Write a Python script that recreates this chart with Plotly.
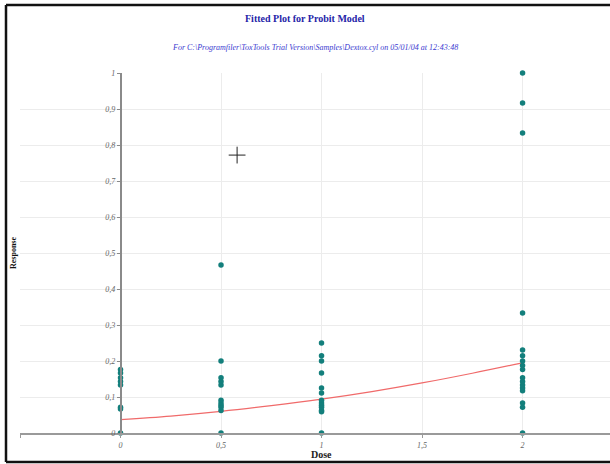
import plotly.graph_objects as go

# Observed responses per dose group
dose_0 = [0, 0, 0, 0, 0, 0, 0, 0]
resp_0 = [0.0, 0.0667, 0.0714, 0.1333, 0.1429, 0.1538, 0.1667, 0.1765]

dose_05 = [0.5] * 11
resp_05 = [0.0, 0.0625, 0.0714, 0.0769, 0.0833, 0.0909, 0.1333, 0.1429, 0.1538, 0.2, 0.4667]

dose_1 = [1] * 13
resp_1 = [0.0, 0.0588, 0.0625, 0.0714, 0.0769, 0.0833, 0.0909, 0.1111, 0.125, 0.1667, 0.2, 0.2143, 0.25]

dose_2 = [2] * 17
resp_2 = [0.0, 0.0714, 0.0833, 0.1176, 0.125, 0.1333, 0.1429, 0.1538, 0.1765, 0.1875,
          0.2, 0.2143, 0.2308, 0.3333, 0.8333, 0.9167, 1.0]

# Fitted probit curve
fit_dose = [0, 0.25, 0.5, 0.75, 1.0, 1.25, 1.5, 1.75, 2.0]
fit_resp = [0.037, 0.047, 0.060, 0.076, 0.094, 0.115, 0.139, 0.166, 0.195]

# Crosshair pointer
pointer_x = [0.58]
pointer_y = [0.772]

x_tickvals = [-0.5, 0, 0.5, 1, 1.5, 2]
x_ticktext = ["", "0", "0,5", "1", "1,5", "2"]
y_tickvals = [0, 0.1, 0.2, 0.3, 0.4, 0.5, 0.6, 0.7, 0.8, 0.9, 1.0]

title_text = "Fitted Plot for Probit Model"
subtitle_text = "For C:\\Programfiler\\ToxTools Trial Version\\Samples\\Dextox.cyl on 05/01/04 at 12:43:48"
x_title = "Dose"
y_title = "Response"

W, H = 610, 464
L, R, T, B = 20, 0, 73, 31
x_range = [-0.5, 2.435]
y_range = [0, 1]

serif = "Liberation Serif, Times New Roman, serif"
dot_color = "#137f7c"

fig = go.Figure()

fig.add_trace(go.Scatter(
    x=fit_dose, y=fit_resp, mode="lines", line=dict(color="#f06a6a", width=1.2, shape="spline"),
    hoverinfo="skip", showlegend=False))

for xs, ys in [(dose_0, resp_0), (dose_05, resp_05), (dose_1, resp_1), (dose_2, resp_2)]:
    fig.add_trace(go.Scatter(
        x=xs, y=ys, mode="markers", marker=dict(color=dot_color, size=5.5),
        cliponaxis=False, showlegend=False))

fig.add_trace(go.Scatter(
    x=pointer_x, y=pointer_y, mode="markers",
    marker=dict(symbol="cross-thin", size=12, line=dict(color="#222222", width=1)),
    showlegend=False, hoverinfo="skip"))

plot_w = W - L - R
yaxis_pos = (0 - x_range[0]) / (x_range[1] - x_range[0])

def px_x(p):
    return (p - L) / plot_w

def px_y(p):
    return (H - B - p) / (H - T - B)

tick_font = dict(family=serif, size=8, color="#666666", style="italic")

fig.update_layout(
    width=W, height=H,
    margin=dict(l=L, r=R, t=T, b=B, pad=0),
    paper_bgcolor="white", plot_bgcolor="white",
    separators=",.",
    showlegend=False,
    xaxis=dict(
        range=x_range, tickvals=x_tickvals, ticktext=x_ticktext,
        showgrid=True, gridcolor="#ececec", gridwidth=1, zeroline=False,
        showline=True, linecolor="#9a9a9a", linewidth=2,
        ticks="outside", ticklen=3, tickcolor="#9a9a9a",
        tickfont=tick_font),
    yaxis=dict(
        range=y_range, tickvals=y_tickvals,
        anchor="free", position=yaxis_pos,
        showgrid=True, gridcolor="#ececec", gridwidth=1, zeroline=False,
        showline=True, linecolor="#8a8a8a", linewidth=1.5,
        ticks="outside", ticklen=3, tickcolor="#8a8a8a",
        tickfont=tick_font),
    annotations=[
        dict(text="<b>" + title_text + "</b>", xref="paper", yref="paper",
             x=px_x(305), y=px_y(18), showarrow=False, xanchor="center", yanchor="middle",
             font=dict(family=serif, size=10, color="#2424a8")),
        dict(text=subtitle_text, xref="paper", yref="paper",
             x=px_x(315), y=px_y(47), showarrow=False, xanchor="center", yanchor="middle",
             font=dict(family=serif, size=8, color="#3a3ad0", style="italic")),
        dict(text="<b>" + x_title + "</b>", xref="x", yref="paper",
             x=1, y=px_y(454), showarrow=False, xanchor="center", yanchor="middle",
             font=dict(family=serif, size=10, color="#222222")),
        dict(text="<b>" + y_title + "</b>", xref="paper", yref="paper",
             x=px_x(13), y=0.5, showarrow=False, xanchor="center", yanchor="middle",
             textangle=-90, font=dict(family=serif, size=8, color="#111111")),
    ],
    shapes=[
        dict(type="line", xref="paper", yref="paper", x0=px_x(6), x1=px_x(6),
             y0=px_y(462), y1=px_y(5), line=dict(color="#111111", width=2.5), layer="above"),
        dict(type="line", xref="paper", yref="paper", x0=px_x(6), x1=1.0,
             y0=px_y(5), y1=px_y(5), line=dict(color="#111111", width=2.5), layer="above"),
        dict(type="line", xref="paper", yref="paper", x0=px_x(6), x1=1.0,
             y0=px_y(462), y1=px_y(462), line=dict(color="#111111", width=2.5), layer="above"),
    ],
)

fig.write_html("out.html", config={"displayModeBar": False})
